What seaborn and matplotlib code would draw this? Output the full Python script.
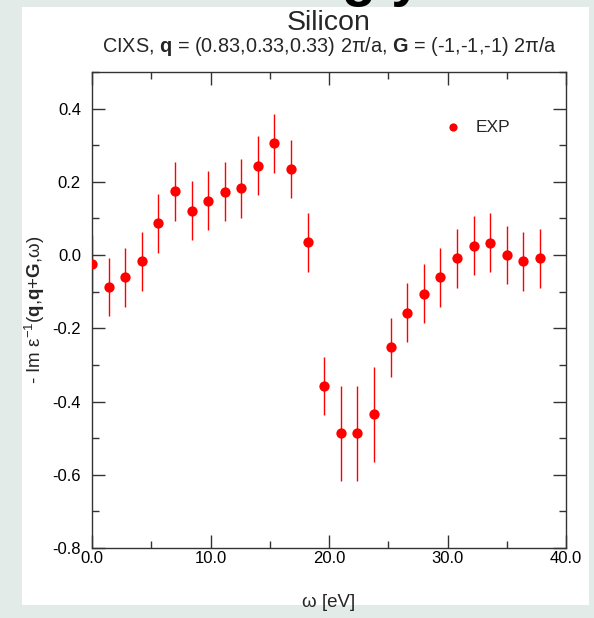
import numpy as np
import matplotlib
matplotlib.use("Agg")
import matplotlib.pyplot as plt
import matplotlib.patches as mpatches
from matplotlib.ticker import MultipleLocator, FormatStrFormatter
import seaborn as sns
import pandas as pd

# data
omega = [0.0, 1.4, 2.8, 4.2, 5.6, 7.0, 8.4, 9.8, 11.2, 12.6, 14.0, 15.4, 16.8, 18.2,
         19.6, 21.0, 22.4, 23.8, 25.2, 26.6, 28.0, 29.4, 30.8, 32.2, 33.6, 35.0, 36.4, 37.8]
im_eps = [-0.025, -0.087, -0.061, -0.017, 0.087, 0.174, 0.121, 0.149, 0.173, 0.182, 0.244,
          0.305, 0.235, 0.035, -0.357, -0.487, -0.487, -0.435, -0.252, -0.157, -0.105,
          -0.061, -0.009, 0.026, 0.034, 0.0, -0.017, -0.009]
err = [0.08] * 15 + [0.13, 0.13, 0.13] + [0.08] * 10

df = pd.DataFrame({"omega": omega, "val": im_eps, "err": err})

sns.set_style("ticks")
plt.rcParams["font.family"] = ["Liberation Sans", "DejaVu Sans"]
plt.rcParams["axes.unicode_minus"] = False
plt.rcParams["mathtext.fontset"] = "custom"
plt.rcParams["mathtext.rm"] = "Liberation Sans"
plt.rcParams["mathtext.bf"] = "Liberation Sans:bold"
plt.rcParams["mathtext.it"] = "Liberation Sans:italic"

fig = plt.figure(figsize=(5.94, 6.18), dpi=100, facecolor="#e2ebe8")
# cut-off page heading above the panel
fig.text(309 / 594, 1 + 5 / 618, "ugly", fontsize=40, fontweight="bold", color="black",
         ha="left", va="baseline", zorder=-2)
# white panel
fig.patches.append(mpatches.Rectangle((22 / 594, 1 - 605 / 618), 567 / 594, 598 / 618,
                                      transform=fig.transFigure, facecolor="white",
                                      edgecolor="none", zorder=-1))

ax = fig.add_axes([92 / 594, 1 - 548 / 618, 474 / 594, 476 / 618])
ax.set_facecolor("none")

ax.errorbar(df["omega"], df["val"], yerr=df["err"], fmt="none", ecolor="red",
            elinewidth=1.0, capsize=0, zorder=2)
sns.scatterplot(data=df, x="omega", y="val", color="red", s=55, linewidth=0,
                ax=ax, zorder=3, label="EXP")

ax.set_xlim(0, 40)
ax.set_ylim(-0.8, 0.5)
ax.xaxis.set_major_locator(MultipleLocator(10))
ax.xaxis.set_minor_locator(MultipleLocator(5))
ax.yaxis.set_minor_locator(MultipleLocator(0.1))
ax.set_yticks([-0.8, -0.6, -0.4, -0.2, 0.0, 0.2, 0.4])
ax.xaxis.set_major_formatter(FormatStrFormatter("%.1f"))
ax.yaxis.set_major_formatter(FormatStrFormatter("%.1f"))

ax.tick_params(which="both", direction="in", top=True, right=True, colors="#333333",
               labelcolor="black", labelsize=12, width=1)
ax.tick_params(which="major", length=9.5)
ax.tick_params(which="minor", length=5)
ax.tick_params(axis="x", pad=2)
ax.tick_params(axis="y", pad=8)
for s in ax.spines.values():
    s.set_visible(True)
    s.set_color("#333333")
    s.set_linewidth(1.0)

ax.set_xlabel("ω [eV]", fontsize=13.5, labelpad=20)
ax.set_ylabel(r"- Im ε$^{-1}$($\mathbf{q}$,$\mathbf{q}$+$\mathbf{G}$,ω)", fontsize=13.5, labelpad=4)

leg = ax.legend(loc="upper left", bbox_to_anchor=((436 - 92) / 474, (548 - 111) / 476),
                frameon=False, fontsize=12.5, handletextpad=0.8, borderpad=0,
                handlelength=1.0, markerscale=0.8)

fig.text(329 / 594, 1 - 30 / 618, "Silicon", fontsize=20.5, ha="center", va="baseline")
fig.text(329 / 594, 1 - 52 / 618,
         r"CIXS, $\mathbf{q}$ = (0.83,0.33,0.33) 2π/a, $\mathbf{G}$ = (-1,-1,-1) 2π/a",
         fontsize=14.3, ha="center", va="baseline")

fig.savefig("out.png", dpi=100, facecolor=fig.get_facecolor())
